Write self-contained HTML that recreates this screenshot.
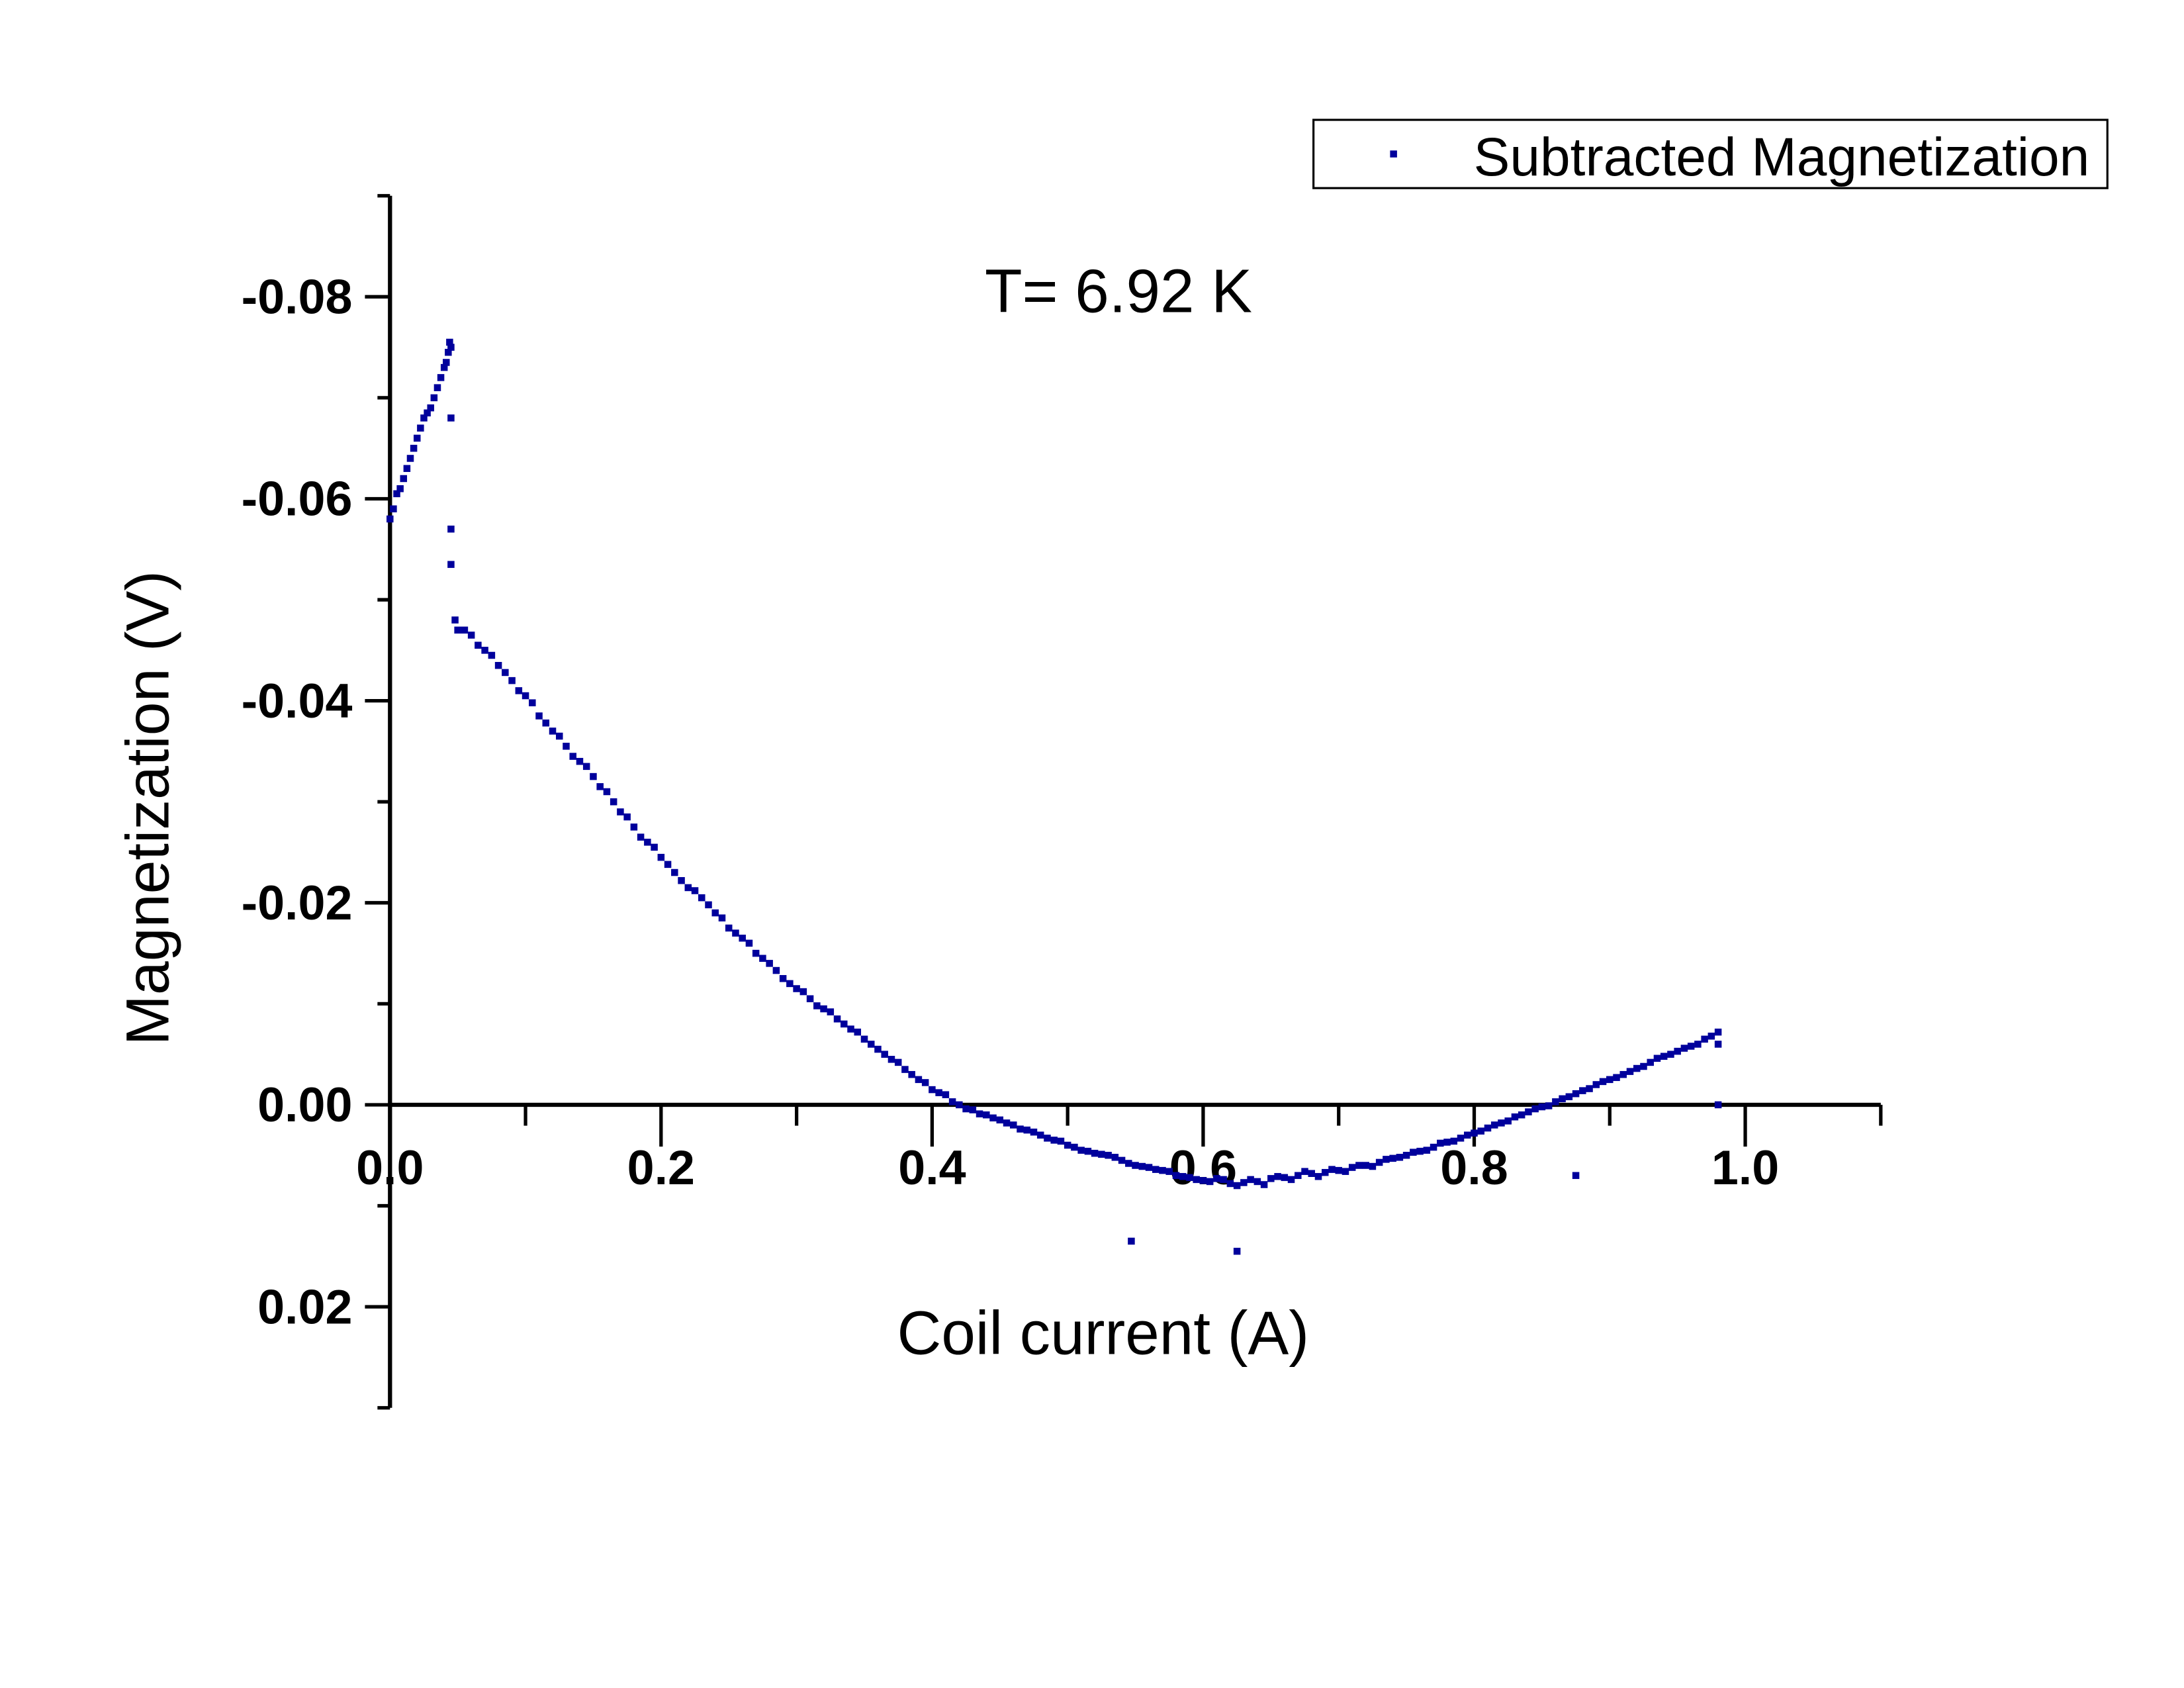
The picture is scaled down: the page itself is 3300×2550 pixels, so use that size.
<!DOCTYPE html>
<html><head><meta charset="utf-8"><style>html,body{margin:0;padding:0;background:#fff}svg{display:block}</style></head>
<body>
<svg id="chart" width="3300" height="2550" viewBox="0 0 1568 1211.6" xmlns="http://www.w3.org/2000/svg" font-family="'Liberation Sans', sans-serif">
<rect width="1568" height="1211.6" fill="#fff"/>
<g id="axes"></g>
<g id="points"></g>
<text x="792" y="972" font-size="44" text-anchor="middle">Coil current (A)</text>
<text transform="translate(121,580) rotate(-90)" font-size="43.5" text-anchor="middle">Magnetization (V)</text>
<text x="803" y="224" font-size="44" text-anchor="middle">T= 6.92 K</text>
<g>
<rect x="943" y="86" width="570" height="49" fill="#fff" stroke="#000" stroke-width="1.5"/>
<rect x="998" y="108" width="5" height="5" fill="#00009c"/>
<text x="1058" y="126" font-size="39">Subtracted Magnetization</text>
</g>
</svg>
<script>
const xTicks = [0, 0.2, 0.4, 0.6, 0.8, 1.0];
const xTickLabels = ["0.0", "0.2", "0.4", "0.6", "0.8", "1.0"];
const yTicks = [-0.08, -0.06, -0.04, -0.02, 0, 0.02];
const yTickLabels = ["-0.08", "-0.06", "-0.04", "-0.02", "0.00", "0.02"];
const xVals = [0,0.005,0.01,0.015,0.02,0.025,0.03,0.035,0.04,0.043,0.045,0.045,0.045,0.045,0.048,
0.05,0.06,0.07,0.08,0.09,0.10,0.11,0.12,0.13,0.14,0.15,0.16,0.17,0.18,0.19,0.20,0.21,0.22,0.23,0.24,0.25,0.26,0.27,0.28,0.29,0.30,0.31,0.32,0.33,0.34,0.35,0.36,0.37,0.38,0.39,0.40,0.41,0.42,0.43,0.44,0.45,0.46,0.47,0.48,0.49,0.50,0.51,0.52,0.53,0.54,0.55,0.56,0.57,0.58,0.59,0.60,0.61,0.62,0.63,0.64,0.65,0.66,0.67,0.68,0.69,0.70,0.71,0.72,0.73,0.74,0.75,0.76,0.77,0.78,0.79,0.80,0.81,0.82,0.83,0.84,0.85,0.86,0.87,0.88,0.89,0.90,0.91,0.92,0.93,0.94,0.95,0.96,0.97,0.98,
0.547,0.625,0.875,0.98,0.98,
0.0025,0.0075,0.0125,0.0175,0.0225,0.0275,0.0325,0.0375,0.0415,0.044,
0.055,0.065,0.075,0.085,0.095,0.105,0.115,0.125,0.135,0.145,0.155,0.165,0.175,0.185,0.195,0.205,0.215,0.225,0.235,0.245,0.255,0.265,0.275,0.285,0.295,0.305,0.315,0.325,0.335,0.345,0.355,0.365,0.375,0.385,0.395,0.405,0.415,0.425,0.435,0.445,0.455,0.465,0.475,0.485,0.495,0.505,0.515,0.525,0.535,0.545,0.555,0.565,0.575,0.585,0.595,0.605,0.615,0.625,0.635,0.645,0.655,0.665,0.675,0.685,0.695,0.705,0.715,0.725,0.735,0.745,0.755,0.765,0.775,0.785,0.795,0.805,0.815,0.825,0.835,0.845,0.855,0.865,0.875,0.885,0.895,0.905,0.915,0.925,0.935,0.945,0.955,0.965,0.975];
const yVals = [-0.058,-0.0605,-0.062,-0.064,-0.066,-0.068,-0.069,-0.071,-0.073,-0.0745,-0.075,-0.068,-0.057,-0.0535,-0.048,
-0.047,-0.0465,-0.045,-0.0435,-0.042,-0.0405,-0.0385,-0.037,-0.0355,-0.034,-0.0325,-0.031,-0.029,-0.0275,-0.026,-0.0245,-0.023,-0.0215,-0.0205,-0.019,-0.0175,-0.0165,-0.015,-0.014,-0.0125,-0.0115,-0.0105,-0.0095,-0.0085,-0.0075,-0.0065,-0.0055,-0.0045,-0.0035,-0.0025,-0.0015,-0.001,0,0.0005,0.001,0.0015,0.002,0.0025,0.003,0.0035,0.004,0.0045,0.0048,0.005,0.0055,0.006,0.0062,0.0065,0.007,0.0072,0.0075,0.0073,0.0078,0.0077,0.0076,0.0073,0.0072,0.007,0.0068,0.0067,0.0065,0.0062,0.006,0.0057,0.0053,0.005,0.0046,0.0042,0.0037,0.0033,0.0028,0.0023,0.0018,0.0012,0.0007,0.0002,-0.0003,-0.0008,-0.0014,-0.002,-0.0025,-0.003,-0.0036,-0.0042,-0.0048,-0.0053,-0.0058,-0.0065,-0.0072,
0.0135,0.0145,0.007,0.0,-0.006,
-0.059,-0.061,-0.063,-0.065,-0.067,-0.0685,-0.070,-0.072,-0.0735,-0.0755,
-0.0470,-0.0455,-0.0445,-0.0428,-0.041,-0.0398,-0.0378,-0.0365,-0.0345,-0.0335,-0.0315,-0.0300,-0.0285,-0.0265,-0.0255,-0.0238,-0.0222,-0.0212,-0.0198,-0.0185,-0.017,-0.016,-0.0145,-0.0133,-0.012,-0.0112,-0.0098,-0.0092,-0.008,-0.0072,-0.006,-0.005,-0.0042,-0.003,-0.0022,-0.0012,-0.0003,0.0004,0.0009,0.0013,0.0018,0.0024,0.0027,0.0033,0.0036,0.0042,0.0046,0.0049,0.0052,0.0058,0.0061,0.0064,0.0066,0.0071,0.0074,0.0076,0.0074,0.0080,0.0074,0.0079,0.0071,0.0074,0.0066,0.0071,0.0064,0.0066,0.006,0.0061,0.0054,0.0052,0.0047,0.0045,0.0038,0.0036,0.003,0.0026,0.002,0.0016,0.001,0.0004,0.0001,-0.0006,-0.0011,-0.0016,-0.0023,-0.0027,-0.0033,-0.0038,-0.0046,-0.005,-0.0056,-0.006,-0.0068];

const NS = "http://www.w3.org/2000/svg";
function sx(v){ return 280 + v * 973; }
function sy(v){ return 793 + v * 7250; }
function mk(tag, attrs, parent){ const e=document.createElementNS(NS,tag); for(const k in attrs) e.setAttribute(k,attrs[k]); parent.appendChild(e); return e; }

const axes = document.getElementById('axes');
const xAxis = mk('line',{x1:sx(0),y1:sy(0),x2:sx(1.1),y2:sy(0),stroke:'#000','stroke-width':3},axes);


const yAxis = mk('line',{x1:sx(0),y1:sy(-0.09),x2:sx(0),y2:sy(0.03),stroke:'#000','stroke-width':3},axes);


for (let i=0;i<=11;i++){
  const v=i*0.1, major=(i%2===0);
  mk('line',{x1:sx(v),y1:sy(0),x2:sx(v),y2:sy(0)+(major?30:15),stroke:'#000','stroke-width':2.5},axes);
}
for (let i=-9;i<=3;i++){
  const v=i*0.01, major=(i%2===0);
  mk('line',{x1:sx(0)-(major?18:9),y1:sy(v),x2:sx(0),y2:sy(v),stroke:'#000','stroke-width':2.5},axes);
}
xTicks.forEach((v,i)=>{
  const t=mk('text',{x:sx(v),y:850,'font-size':35,'font-weight':'bold','text-anchor':'middle'},axes);
  t.textContent=xTickLabels[i];
  
  
});
yTicks.forEach((v,i)=>{
  const t=mk('text',{x:253,y:sy(v)+12,'font-size':35,'font-weight':'bold','text-anchor':'end'},axes);
  t.textContent=yTickLabels[i];
  
  
});
const pts=document.getElementById('points');
xVals.forEach((x,i)=>{
  const r=mk('rect',{x:sx(x)-2.5,y:sy(yVals[i])-2.5,width:5,height:5,fill:'#00009c'},pts);
  
  
});
</script>
</body></html>
